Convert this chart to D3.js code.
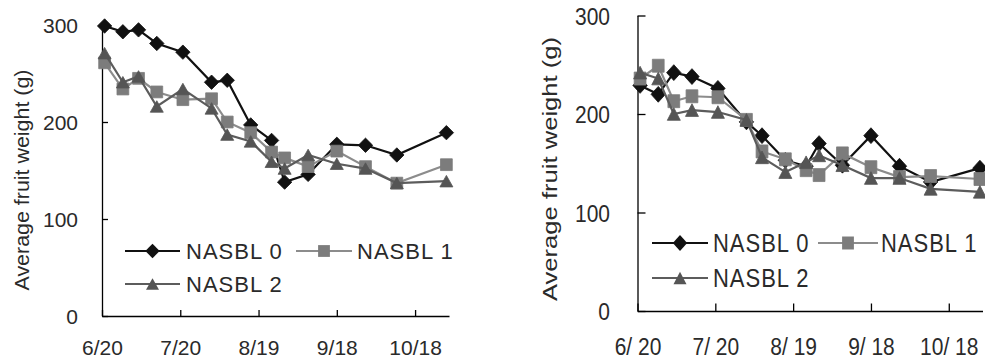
<!DOCTYPE html>
<html>
<head>
<meta charset="utf-8">
<script src="https://cdn.jsdelivr.net/npm/d3@7"></script>
<style>
  html, body { margin: 0; padding: 0; background: #fff; }
  svg { display: block; }
  text { font-family: "Liberation Sans", Arial, sans-serif; font-size: 21px; fill: #2a2a2a; }
</style>
</head>
<body>
<div id="chart"></div>
<script>
// ---- data ----
const sampleDates = ["2000-06-21","2000-06-28","2000-07-04","2000-07-11","2000-07-21","2000-08-01","2000-08-07","2000-08-16","2000-08-24","2000-08-29","2000-09-07","2000-09-18","2000-09-29","2000-10-11","2000-10-30"];
const seriesNames = ["NASBL 0", "NASBL 1", "NASBL 2"];

const leftNASBL0 = [299, 293, 295, 281, 272, 241, 243, 197, 181, 138, 146, 177, 176, 166, 189];
const leftNASBL1 = [261, 234, 245, 231, 223, 224, 200, 189, 169, 163, 154, 170, 154, 137, 156];
const leftNASBL2 = [271, 241, 247, 216, 234, 214, 187, 180, 159, 152, 166, 157, 152, 137, 139];

const rightNASBL0 = [229, 220, 242, 238, 226, 192, 178, 153, 147, 170, 148, 178, 147, 131, 145];
const rightNASBL1 = [236, 249, 213, 218, 217, 194, 162, 154, 143, 138, 160, 146, 136, 137, 134];
const rightNASBL2 = [242, 236, 200, 204, 202, 194, 156, 141, 151, 158, 148, 135, 135, 124, 121];

const tickDates = ["2000-06-20","2000-07-20","2000-08-19","2000-09-18","2000-10-18"];
const tickLabelsLeft = ["6/20", "7/20", "8/19", "9/18", "10/18"];
const tickLabelsRight = ["6/ 20", "7/ 20", "8/ 19", "9/ 18", "10/ 18"];
const yTicks = [0, 100, 200, 300];
const yTitle = "Average fruit weight (g)";
const xStart = "2000-06-20", xEnd = "2000-10-31";

// ---- styles ----
const styles = [
  { line: "#111", fill: "#111", marker: "diamond" },
  { line: "#8c8c8c", fill: "#7c7c7c", marker: "square" },
  { line: "#5c5c5c", fill: "#555", marker: "triangle" }
];

const W = 985, H = 360;
const svg = d3.select("#chart").append("svg").attr("width", W).attr("height", H);
const parse = d3.utcParse("%Y-%m-%d");

function markerPath(type, sy) {
  if (type === "diamond") { const r = 7.2; return `M0,${-r*sy}L${r},0L0,${r*sy}L${-r},0Z`; }
  if (type === "square") { const s = 5.9; return `M${-s},${-s*sy}H${s}V${s*sy}H${-s}Z`; }
  const w = 13, h = 11.5 * sy; return `M0,${-h/2}L${w/2},${h/2}L${-w/2},${h/2}Z`;
}

function drawPanel(cfg, data) {
  const g = svg.append("g");
  const x = d3.scaleUtc().domain([parse(xStart), parse(xEnd)]).range([cfg.left, cfg.right]);
  const y = d3.scaleLinear().domain([0, 300]).range([cfg.bottom, cfg.top]);

  // x axis
  const xa = g.append("g").attr("transform", `translate(0,${cfg.bottom})`)
    .call(d3.axisBottom(x).tickValues(tickDates.map(parse))
      .tickFormat((d, i) => cfg.tickLabels[i]).tickSizeInner(-cfg.xTick).tickSizeOuter(0));
  xa.selectAll("text").attr("y", null).attr("dy", null)
    .attr("transform", `translate(0,${cfg.xLabelBase}) scale(1,${cfg.sy})`);
  // y axis
  const ya = g.append("g").attr("transform", `translate(${cfg.left},0)`)
    .call(d3.axisLeft(y).tickValues(yTicks).tickFormat(d3.format("d"))
      .tickSizeInner(-cfg.yTick).tickSizeOuter(0));
  ya.selectAll("text").attr("x", null).attr("dy", "0.36em")
    .attr("transform", `translate(${-cfg.yPad},0) scale(1,${cfg.sy})`);
  [xa, ya].forEach(a => {
    a.attr("font-family", null).attr("font-size", null);
    a.select(".domain").attr("stroke", "#000").attr("stroke-width", 1.3);
    a.selectAll(".tick line").attr("stroke", "#000").attr("stroke-width", 1.3);
    a.selectAll("text").attr("fill", "#2a2a2a");
  });

  // y title
  g.append("text")
    .attr("transform", `translate(${cfg.titleX},${cfg.titleY}) rotate(-90) scale(${cfg.titleS},1)`)
    .attr("text-anchor", "middle").text(yTitle);

  // series
  const lineGen = d3.line().x(d => x(d.date)).y(d => y(d.v));
  data.forEach((vals, si) => {
    const st = styles[si];
    const pts = vals.map((v, i) => ({ date: parse(sampleDates[i]), v }));
    g.append("path").datum(pts).attr("d", lineGen)
      .attr("fill", "none").attr("stroke", st.line).attr("stroke-width", 2.2);
    g.selectAll(null).data(pts).enter().append("path")
      .attr("d", markerPath(st.marker, cfg.msy))
      .attr("transform", d => `translate(${x(d.date)},${y(d.v)})`)
      .attr("fill", st.fill).attr("stroke", st.fill).attr("stroke-width", 0.8);
  });

  // legend
  cfg.legend.forEach((it, si) => {
    const st = styles[si];
    g.append("line").attr("x1", it.x0).attr("x2", it.x1).attr("y1", it.y).attr("y2", it.y)
      .attr("stroke", st.line).attr("stroke-width", 2.2);
    g.append("path").attr("d", markerPath(st.marker, cfg.msy))
      .attr("transform", `translate(${(it.x0 + it.x1) / 2},${it.y})`).attr("fill", st.fill);
    g.append("text").attr("transform", `translate(${it.tx},${it.y}) scale(1,${cfg.sy})`)
      .attr("dy", "0.36em").style("font-size", "22px").attr("letter-spacing", "1px")
      .text(seriesNames[si]);
  });
}

drawPanel({
  left: 102, right: 449, bottom: 316, top: 25, sy: 1, msy: 1, titleS: 1.02,
  xTick: 6, yTick: 6, xLabelBase: 39, yPad: 24,
  tickLabels: tickLabelsLeft, titleX: 29, titleY: 180,
  legend: [
    { x0: 125, x1: 180, y: 251, tx: 186 },
    { x0: 296, x1: 352, y: 251, tx: 357 },
    { x0: 125, x1: 180, y: 284, tx: 186 }
  ]
}, [leftNASBL0, leftNASBL1, leftNASBL2]);

drawPanel({
  left: 637.5, right: 982.5, bottom: 311, top: 15.5, sy: 1.15, msy: 1.1, titleS: 1.22,
  xTick: 7.5, yTick: 8, xLabelBase: 44, yPad: 27.5,
  tickLabels: tickLabelsRight, titleX: 557, titleY: 169,
  legend: [
    { x0: 652, x1: 708, y: 243, tx: 713 },
    { x0: 818, x1: 878, y: 243, tx: 881 },
    { x0: 652, x1: 708, y: 278, tx: 713 }
  ]
}, [rightNASBL0, rightNASBL1, rightNASBL2]);
</script>
</body>
</html>
